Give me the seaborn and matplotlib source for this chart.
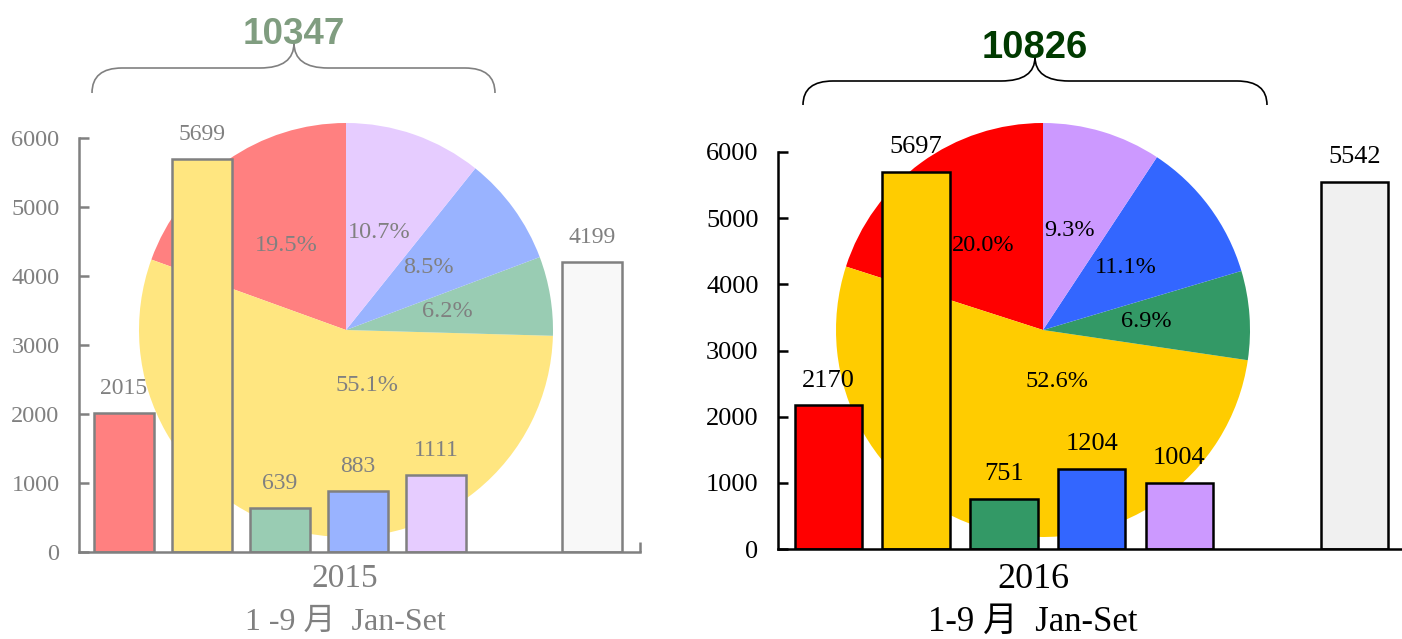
import numpy as np
import pandas as pd
import matplotlib.pyplot as plt
import matplotlib.colors as mcolors
from matplotlib.path import Path
from matplotlib.patches import PathPatch
import seaborn as sns

plt.rcParams['font.family'] = ['Liberation Serif', 'Noto Sans CJK SC']

# data
segments = ['seg1', 'seg2', 'seg3', 'seg4', 'seg5']
other = 'other'
slots = segments + ['gap', other]

years = ['2015', '2016']
values_2015 = [2015, 5699, 639, 883, 1111]
values_2016 = [2170, 5697, 751, 1204, 1004]
other_2015 = 4199
other_2016 = 5542
period_2015 = '1 -9 月  Jan-Set'
period_2016 = '1-9 月  Jan-Set'
yticks = [0, 1000, 2000, 3000, 4000, 5000, 6000]

# style
base_colors = ['#FF0000', '#FFCC00', '#339966', '#3366FF', '#CC99FF']
other_color = '#F0F0F0'
total_color = '#003A00'

W, H = 1402, 639


def lighten(c, f=0.5):
    rgb = np.array(mcolors.to_rgb(c))
    return tuple(rgb + (1 - rgb) * f)


def fx(px):
    return px / W


def fy(py):
    return 1 - py / H


fig = plt.figure(figsize=(W / 100, H / 100), dpi=100)


def brace(x0, x1, ybot, yh, xc, ycusp, color):
    r = 30
    r2 = 34
    pts = [(x0, ybot), (x0, yh), (x0 + r, yh), (xc - r2, yh), (xc, yh), (xc, ycusp),
           (xc, yh), (xc + r2, yh), (x1 - r, yh), (x1, yh), (x1, ybot)]
    codes = [Path.MOVETO, Path.CURVE3, Path.CURVE3, Path.LINETO, Path.CURVE3, Path.CURVE3,
             Path.CURVE3, Path.CURVE3, Path.LINETO, Path.CURVE3, Path.CURVE3]
    verts = [(fx(x), fy(y)) for x, y in pts]
    fig.add_artist(PathPatch(Path(verts, codes), transform=fig.transFigure,
                             facecolor='none', edgecolor=color, lw=1.2))


def draw_panel(year, values, other_value, period, faded, g):
    f = 0.5 if faded else 0.0
    colors = [lighten(c, f) for c in base_colors]
    ocolor = lighten(other_color, f)
    ink = lighten('black', f)
    tcolor = lighten(total_color, f)
    fs = g['fs']

    # pie in the background
    cx, cy, r = g['pie']
    pax = fig.add_axes([fx(cx - r), fy(cy + r), 2 * r / W, 2 * r / H])
    wedges, texts, autotexts = pax.pie(values, colors=colors, startangle=90,
                                       autopct='%1.1f%%',
                                       textprops=dict(color=ink, fontsize=fs['pct']))
    pax.set_xlim(-1, 1)
    pax.set_ylim(-1, 1)
    for t, pos in zip(autotexts, g['pct_pos']):
        t.set_position(pos)

    # bars on top
    x0, ybase, ytop, slot = g['axes']
    xlim = (-0.576, 6.62)
    ax = fig.add_axes([fx(x0), fy(ybase), (xlim[1] - xlim[0]) * slot / W, (ybase - ytop) / H])
    ax.patch.set_alpha(0)
    df = pd.DataFrame({'slot': segments + [other], 'value': values + [other_value]})
    palette = dict(zip(segments + [other], colors + [ocolor]))
    sns.barplot(data=df, x='slot', y='value', hue='slot', order=slots, palette=palette,
                saturation=1, width=0.77, edgecolor=ink, linewidth=1.8, legend=False, ax=ax)
    for c in ax.containers:
        ax.bar_label(c, padding=10, color=ink, fontsize=fs['value'], fmt='%d')

    ax.set_xlim(*xlim)
    ax.set_ylim(0, 6000)
    ax.set_yticks(yticks)
    ax.set_xticks([xlim[1]])
    ax.set_xticklabels([''])
    ax.set_xlabel('')
    ax.set_ylabel('')
    ax.tick_params(axis='y', direction='in', length=7, width=1.8, colors=ink,
                   labelsize=fs['tick'], pad=14)
    ax.tick_params(axis='x', direction='in', length=7, width=1.8, colors=ink)
    for s in ['top', 'right']:
        ax.spines[s].set_visible(False)
    for s in ['left', 'bottom']:
        ax.spines[s].set_color(ink)
        ax.spines[s].set_linewidth(1.8)

    # brace and total
    bx0, bx1, ybot, yh, xc, ycusp = g['brace']
    brace(bx0, bx1, ybot, yh, xc, ycusp, ink)
    fig.text(fx(xc), fy(ycusp + 1), str(sum(values)), ha='center', va='baseline',
             fontsize=fs['total'], fontweight='bold', family='Liberation Sans', color=tcolor)

    # labels under the axis
    lx = g['label_x']
    fig.text(fx(lx), fy(579), year, ha='center', va='center', fontsize=fs['year'], color=ink)
    fig.text(fx(lx), fy(622), period, ha='center', va='center', fontsize=fs['period'], color=ink)


geom_2015 = dict(pie=(346, 330, 207), axes=(79, 552, 138, 78.0),
                 brace=(92, 495, 93, 68, 294, 43), label_x=345,
                 pct_pos=[(-0.29, 0.41), (0.10, -0.27), (0.49, 0.09), (0.40, 0.30), (0.16, 0.47)],
                 fs=dict(tick=17.5, value=17, pct=17.5, year=24, period=23, total=26.5))
geom_2016 = dict(pie=(1043, 330, 207), axes=(778, 549, 152, 87.7),
                 brace=(803, 1267, 105, 81, 1035, 57), label_x=1033,
                 pct_pos=[(-0.29, 0.41), (0.07, -0.25), (0.50, 0.04), (0.40, 0.30), (0.13, 0.48)],
                 fs=dict(tick=19, value=19, pct=17.5, year=26, period=25, total=27.5))

draw_panel(years[0], values_2015, other_2015, period_2015, True, geom_2015)
draw_panel(years[1], values_2016, other_2016, period_2016, False, geom_2016)

fig.savefig('out.png', dpi=100)
